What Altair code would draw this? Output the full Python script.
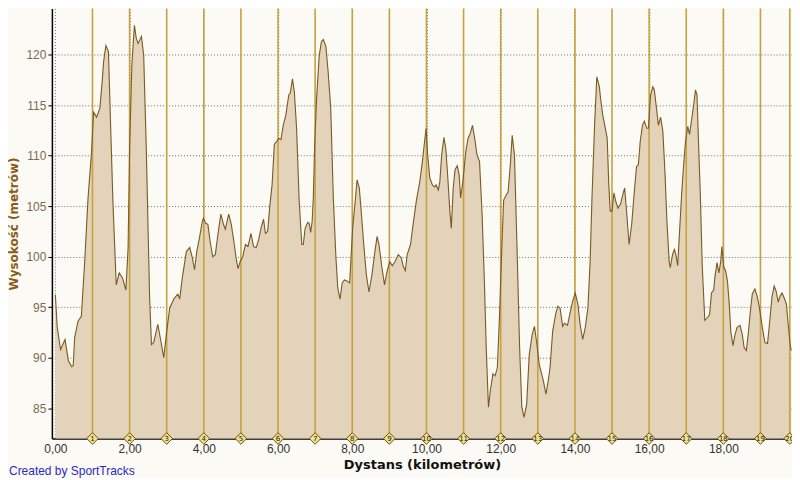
import altair as alt
import pandas as pd

# Elevation profile (distance in km, elevation in m)
km = [0.00, 0.05, 0.14, 0.26, 0.35, 0.44, 0.48, 0.52, 0.61, 0.70, 0.79, 0.88, 0.97, 1.03, 1.11, 1.20, 1.26, 1.30, 1.36, 1.43,
      1.48, 1.55, 1.64, 1.72, 1.81, 1.90, 1.96, 2.00, 2.06, 2.13, 2.18, 2.23, 2.32, 2.38, 2.45, 2.54, 2.59, 2.65, 2.76, 2.85,
      2.92, 2.99, 3.08, 3.19, 3.30, 3.35, 3.42, 3.53, 3.62, 3.69, 3.75, 3.81, 3.88, 3.96, 3.99, 4.05, 4.11, 4.17, 4.24, 4.31,
      4.38, 4.46, 4.53, 4.58, 4.67, 4.74, 4.81, 4.87, 4.92, 4.98, 5.05, 5.12, 5.19, 5.27, 5.34, 5.41, 5.48, 5.54, 5.61, 5.66,
      5.72, 5.78, 5.84, 5.90, 5.96, 6.02, 6.08, 6.14, 6.21, 6.29, 6.33, 6.39, 6.44, 6.50, 6.57, 6.64, 6.68, 6.73, 6.80, 6.84,
      6.88, 6.92, 6.95, 6.99, 7.04, 7.11, 7.17, 7.22, 7.29, 7.35, 7.42, 7.49, 7.56, 7.61, 7.67, 7.73, 7.79, 7.86, 7.93, 8.01,
      8.08, 8.13, 8.19, 8.25, 8.31, 8.38, 8.45, 8.53, 8.61, 8.67, 8.72, 8.80, 8.87, 8.94, 9.01, 9.08, 9.15, 9.24, 9.32, 9.37,
      9.43, 9.48, 9.57, 9.64, 9.73, 9.82, 9.89, 9.94, 9.99, 10.03, 10.09, 10.16, 10.22, 10.26, 10.32, 10.36, 10.41, 10.47, 10.52, 10.57,
      10.63, 10.67, 10.72, 10.77, 10.83, 10.88, 10.92, 10.98, 11.06, 11.12, 11.18, 11.24, 11.30, 11.36, 11.43, 11.50, 11.56, 11.61, 11.67, 11.72,
      11.79, 11.85, 11.91, 11.97, 12.03, 12.08, 12.15, 12.20, 12.26, 12.31, 12.37, 12.44, 12.51, 12.57, 12.63, 12.70, 12.77, 12.85, 12.91, 12.97,
      13.04, 13.15, 13.22, 13.28, 13.33, 13.40, 13.48, 13.54, 13.60, 13.67, 13.72, 13.80, 13.88, 13.94, 14.01, 14.08, 14.14, 14.21, 14.28, 14.35,
      14.41, 14.46, 14.53, 14.59, 14.66, 14.69, 14.75, 14.82, 14.87, 14.91, 14.95, 15.00, 15.05, 15.10, 15.16, 15.23, 15.28, 15.34, 15.40, 15.46,
      15.53, 15.60, 15.66, 15.71, 15.76, 15.82, 15.87, 15.94, 15.98, 16.04, 16.10, 16.14, 16.21, 16.25, 16.31, 16.37, 16.43, 16.48, 16.54, 16.57,
      16.63, 16.68, 16.72, 16.77, 16.82, 16.88, 16.93, 16.98, 17.04, 17.09, 17.15, 17.20, 17.25, 17.29, 17.33, 17.38, 17.43, 17.50, 17.58, 17.63,
      17.68, 17.74, 17.77, 17.83, 17.88, 17.93, 17.96, 18.01, 18.06, 18.11, 18.16, 18.20, 18.26, 18.31, 18.37, 18.45, 18.51, 18.56, 18.62, 18.67,
      18.72, 18.78, 18.85, 18.91, 18.97, 19.05, 19.12, 19.19, 19.25, 19.31, 19.37, 19.42, 19.48, 19.53, 19.58, 19.64, 19.70, 19.74, 19.80, 19.83]

elev = [96.2, 93.0, 90.8, 91.8, 89.7, 89.1, 89.2, 92.0, 93.6, 94.1, 99.5, 105.8, 110.1, 114.3, 113.8, 114.7, 117.3, 119.3, 120.9, 120.3,
        114.0, 105.5, 97.2, 98.4, 97.9, 96.7, 100.9, 110.7, 118.9, 122.9, 121.6, 121.1, 121.8, 119.9, 110.7, 95.9, 91.3, 91.5, 93.3, 91.5,
        90.0, 92.3, 94.9, 95.8, 96.3, 95.8, 97.9, 100.5, 100.9, 99.9, 98.7, 100.5, 101.8, 103.5, 103.8, 103.3, 103.2, 101.5, 100.0, 100.2,
        102.2, 104.2, 103.2, 102.7, 104.2, 103.2, 101.5, 99.9, 98.8, 99.5, 100.0, 101.2, 101.0, 102.3, 101.0, 100.9, 101.7, 102.8, 103.7, 102.3,
        102.5, 105.1, 107.1, 111.1, 111.4, 111.7, 111.6, 113.0, 114.0, 116.0, 116.2, 117.6, 116.3, 112.7, 105.5, 101.2, 101.2, 102.8, 103.4, 103.3,
        102.4, 103.5, 105.8, 111.4, 115.7, 119.9, 121.3, 121.5, 120.8, 118.3, 114.7, 105.8, 99.9, 96.9, 95.8, 97.4, 97.7, 97.6, 97.4, 102.8,
        105.5, 107.6, 106.8, 104.1, 101.2, 98.2, 96.5, 98.2, 100.5, 102.0, 101.2, 98.9, 97.2, 98.6, 99.5, 99.1, 99.5, 100.2, 99.9, 99.1,
        98.6, 100.2, 101.2, 103.2, 105.6, 107.4, 109.4, 111.1, 112.7, 110.1, 107.8, 107.1, 106.9, 107.1, 106.6, 107.4, 110.1, 111.8, 110.7, 108.1,
        104.5, 102.8, 106.8, 108.6, 109.0, 108.1, 105.8, 107.4, 110.4, 111.7, 112.2, 113.0, 111.7, 110.1, 109.4, 104.1, 97.6, 91.0, 85.1, 86.7,
        88.4, 88.2, 89.0, 94.3, 100.9, 105.6, 106.1, 106.4, 109.1, 112.0, 110.1, 100.9, 91.0, 85.1, 84.1, 85.4, 90.3, 92.3, 93.1, 91.5,
        89.3, 87.7, 86.4, 87.7, 89.0, 92.6, 94.3, 95.1, 94.9, 93.1, 93.4, 93.2, 94.6, 95.6, 96.4, 95.3, 93.3, 91.8, 93.0, 94.9,
        99.5, 105.8, 113.0, 117.8, 116.8, 115.7, 114.0, 112.7, 111.7, 107.4, 104.5, 104.5, 106.3, 105.5, 104.8, 105.2, 106.0, 106.8, 104.1, 101.2,
        103.2, 106.4, 108.9, 109.1, 111.4, 113.0, 113.4, 112.7, 112.7, 116.0, 116.8, 116.5, 114.3, 113.0, 113.8, 112.4, 108.1, 103.5, 99.5, 98.9,
        100.2, 100.7, 100.2, 99.1, 102.5, 106.4, 109.1, 111.4, 112.9, 112.1, 113.7, 115.0, 116.5, 116.0, 111.4, 106.1, 99.2, 93.7, 94.0, 94.3,
        96.4, 96.7, 97.9, 99.4, 98.4, 99.5, 101.0, 99.0, 98.6, 97.6, 95.3, 92.6, 91.2, 92.2, 93.0, 93.2, 92.3, 91.0, 90.7, 92.3,
        94.3, 96.3, 96.8, 96.1, 95.0, 93.0, 91.5, 91.4, 93.6, 96.0, 97.1, 96.6, 95.5, 96.1, 96.4, 95.9, 95.3, 93.6, 91.3, 90.7]

# Kilometre markers
marker_km = [1, 2, 3, 4, 5, 6, 7, 8, 9, 10, 11, 12, 13, 14, 15, 16, 17, 18, 19, 19.79]
marker_label = [str(i) for i in range(1, 21)]

x_ticks = [0, 2, 4, 6, 8, 10, 12, 14, 16, 18]
y_ticks = [85, 90, 95, 100, 105, 110, 115, 120]

prof = pd.DataFrame({"km": km, "elev": elev})
marks = pd.DataFrame({"km": marker_km, "label": marker_label})
credit = pd.DataFrame({"t": ["Created by SportTracks"]})

W, H = 742, 431
BG = "#FCFAF4"

xs = alt.Scale(domain=[-0.094, 19.85], nice=False, zero=False)
ys = alt.Scale(domain=[82, 124.55], nice=False, zero=False)

x_axis = alt.Axis(
    values=x_ticks,
    labelExpr="replace(format(datum.value, '.2f'), '.', ',')",
    title="Dystans (kilometrów)",
    grid=True, gridDash=[1, 2], gridColor="#6f6f6f", gridOpacity=1,
    ticks=False, labelPadding=5,
    labelFont="Liberation Sans", labelFontSize=12, labelColor="#333333",
    titleFont="DejaVu Sans", titleFontSize=13, titleFontWeight="bold", titleColor="#111111",
    titlePadding=4, domainColor="#000000", domainWidth=1.5,
)
y_axis = alt.Axis(
    values=y_ticks,
    title="Wysokość (metrów)",
    grid=True, gridDash=[1, 2], gridColor="#6f6f6f", gridOpacity=1,
    ticks=True, tickSize=4, tickColor="#000000", labelPadding=2,
    labelFont="Liberation Sans", labelFontSize=12, labelColor="#7d6a52",
    titleFont="DejaVu Sans", titleFontSize=12, titleFontWeight="bold", titleColor="#8a5a18",
    titlePadding=5, domainColor="#000000", domainWidth=1.5,
)

base = alt.Chart(prof)
area = base.mark_area(color="#E2D3BA", opacity=1).encode(
    x=alt.X("km:Q", scale=xs, axis=x_axis),
    y=alt.Y("elev:Q", scale=ys, axis=y_axis),
    y2=alt.datum(82),
)
line = base.mark_line(color="#7A5A22", strokeWidth=1.1).encode(
    x=alt.X("km:Q", scale=xs),
    y=alt.Y("elev:Q", scale=ys),
)
rules = alt.Chart(marks).mark_rule(color="#C6A23E", strokeWidth=1.6).encode(
    x=alt.X("km:Q", scale=xs),
    y=alt.value(0),
    y2=alt.value(H),
)
diamonds = alt.Chart(marks).mark_point(
    shape="diamond", filled=True, size=135, color="#F1E18E", stroke="#6B5012", strokeWidth=1, opacity=1
).encode(
    x=alt.X("km:Q", scale=xs),
    y=alt.value(H),
)
labels = alt.Chart(marks).mark_text(
    fontSize=7, font="DejaVu Sans", color="#222222", baseline="middle", align="center"
).encode(
    x=alt.X("km:Q", scale=xs),
    y=alt.value(H + 0.5),
    text="label:N",
)
credit_txt = alt.Chart(credit).mark_text(
    align="left", baseline="alphabetic", fontSize=12, font="Liberation Sans", color="#2A2AC4"
).encode(
    x=alt.value(-43),
    y=alt.value(H + 37),
    text="t:N",
)

chart = alt.layer(area, rules, line, diamonds, labels, credit_txt).properties(
    width=W, height=H,
    autosize=alt.AutoSizeParams(type="none"),
    padding={"left": 44, "top": 0, "right": 0, "bottom": 39},
    background=BG,
).configure_view(fill=BG, strokeWidth=0)

chart.save("out.html", embed_options={"renderer": "svg", "actions": False})
